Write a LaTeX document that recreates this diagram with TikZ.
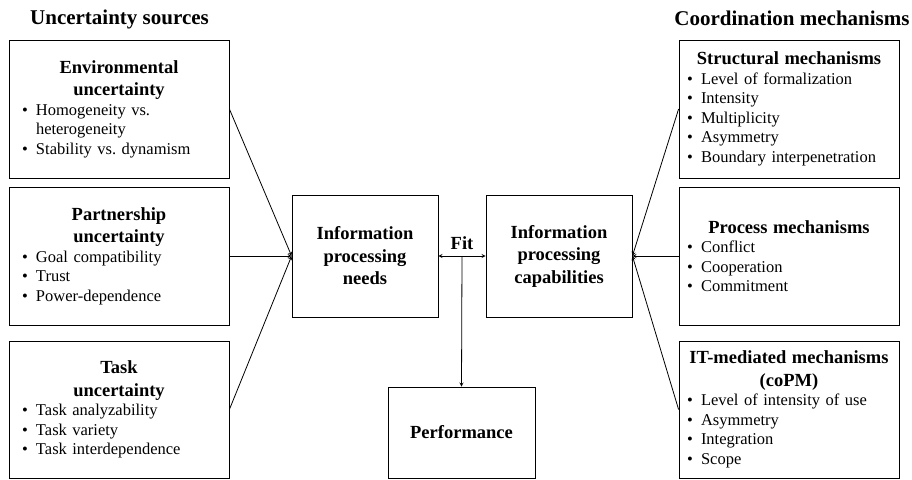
\documentclass[tikz,border=0pt]{standalone}
\usepackage{fontspec}
\setmainfont{Liberation Serif}
\usepackage{tikz}
\usetikzlibrary{calc}
\frenchspacing

\newcommand{\bitem}[1]{\par\noindent\hangindent=14pt\hangafter=1\makebox[14pt][l]{\textbullet}#1}
\newcommand{\boxhead}[1]{{\centering\bfseries\fontsize{18.5}{22.5}\selectfont #1\par}}

\begin{document}
\begin{tikzpicture}[x=1pt,y=-1pt,>=stealth,line width=0.8pt,
  every node/.style={font=\fontsize{16.5}{19.5}\selectfont},
  srcbox/.style={draw,minimum width=220pt,minimum height=138pt,text width=194pt,inner xsep=13pt,align=left},
  mechbox/.style={draw,minimum width=220pt,minimum height=138pt,text width=204pt,inner xsep=8pt,align=left},
  midbox/.style={draw,minimum width=146pt,minimum height=122pt,align=center,font=\bfseries\fontsize{18.5}{22.5}\selectfont},
  headtext/.style={font=\bfseries\fontsize{21}{25}\selectfont}]
\useasboundingbox (0,0) rectangle (912,479);
\node[headtext] (srchead) at (119.5,19) {Uncertainty sources};
\node[headtext] (mechhead) at (792,18) {Coordination mechanisms};
% uncertainty sources
\node[srcbox] (env) at (119,109) {\boxhead{Environmental\\uncertainty}
  \bitem{Homogeneity vs.\newline heterogeneity}
  \bitem{Stability vs. dynamism}};
\node[srcbox] (part) at (119,256) {\boxhead{Partnership\\uncertainty}
  \bitem{Goal compatibility}
  \bitem{Trust}
  \bitem{Power-dependence}};
\node[srcbox,minimum height=137pt] (task) at (119,409.5) {\boxhead{Task\\uncertainty}
  \bitem{Task analyzability}
  \bitem{Task variety}
  \bitem{Task interdependence}};
% information processing
\node[midbox] (needs) at (365,256) {Information\\processing\\needs};
\node[midbox] (caps) at (559,256) {Information\\processing\\capabilities};
\node[midbox,minimum width=147pt,minimum height=91pt] (perf) at (461.5,432.5) {Performance};
% coordination mechanisms
\node[mechbox] (struct) at (789,109) {\boxhead{Structural mechanisms}
  \bitem{Level of formalization}
  \bitem{Intensity}
  \bitem{Multiplicity}
  \bitem{Asymmetry}
  \bitem{Boundary interpenetration}};
\node[mechbox] (proc) at (789,256) {\boxhead{Process mechanisms}
  \bitem{Conflict}
  \bitem{Cooperation}
  \bitem{Commitment}};
\node[mechbox,minimum height=137pt] (itmech) at (789,409.5) {\boxhead{IT-mediated mechanisms\\(coPM)}
  \bitem{Level of intensity of use}
  \bitem{Asymmetry}
  \bitem{Integration}
  \bitem{Scope}};
\draw[->] (env.east) -- (needs.west);
\draw[->] (part.east) -- (needs.west);
\draw[->] (task.east) -- (needs.west);
\draw[->] (struct.west) -- (caps.east);
\draw[->] (proc.west) -- (caps.east);
\draw[->] (itmech.west) -- (caps.east);
\draw[<->] (needs.east) -- (caps.west);
\coordinate (fitpt) at ($(needs.east)!0.5!(caps.west)$);
\node[font=\bfseries\fontsize{18.5}{22.5}\selectfont] (fit) at (462,243) {Fit};
\draw[->] (fitpt) -- (perf.north);
\end{tikzpicture}
\end{document}
